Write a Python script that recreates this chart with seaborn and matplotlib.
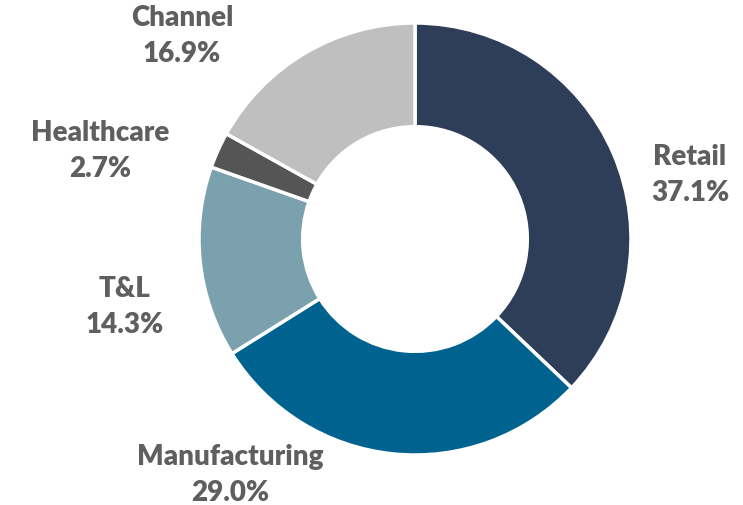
import matplotlib
matplotlib.use("Agg")
import matplotlib.pyplot as plt
import seaborn as sns

categories = ["Retail", "Manufacturing", "T&L", "Healthcare", "Channel"]
values = [37.1, 29.0, 14.3, 2.7, 16.9]
colors = ["#2E3D58", "#00638F", "#7AA1AD", "#555555", "#BFBFBF"]
# label centre positions (layout, in units of outer radius)
label_pos = [(1.273, 0.301), (-0.856, -1.088), (-1.343, -0.310), (-1.458, 0.412), (-1.079, 0.944)]

sns.set_theme(style="white")
plt.rcParams['font.family'] = ['Lato', 'DejaVu Sans']

fig = plt.figure(figsize=(7.43, 5.06), dpi=100)
ax = fig.add_axes([0, 0, 1, 1])
cx, cy, R = 415, 240, 216
ax.pie(values, colors=colors, startangle=90, counterclock=False,
       radius=1.0, wedgeprops=dict(width=0.48, edgecolor="white", linewidth=2.5))
ax.set_xlim(-cx / R, (743 - cx) / R)
ax.set_ylim(-(506 - cy) / R, cy / R)
ax.set_aspect("auto")
ax.axis("off")

for cat, v, (x, y) in zip(categories, values, label_pos):
    ax.text(x, y, f"{cat}\n{v:.1f}%", ha="center", va="center", fontsize=20,
            fontweight="heavy", color="#5F5F5F", linespacing=1.45)

fig.savefig("out.png", dpi=100)
